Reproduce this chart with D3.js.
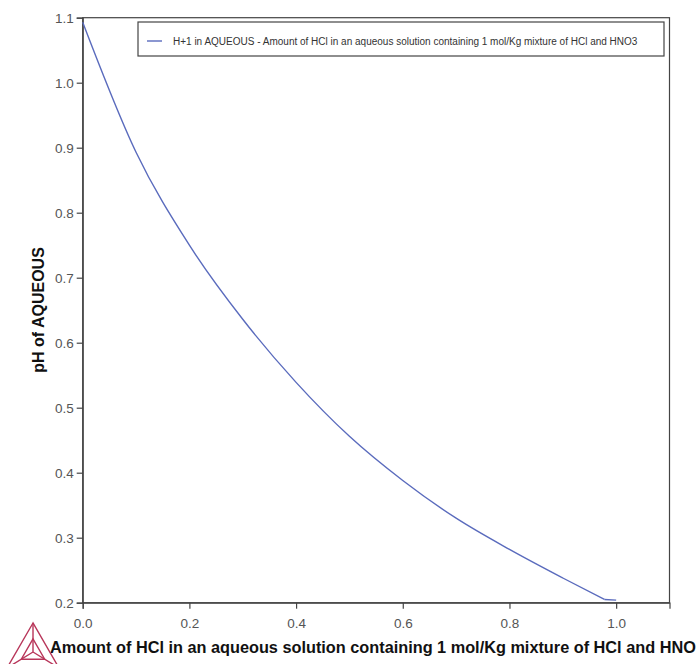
<!DOCTYPE html>
<html><head><meta charset="utf-8">
<script src="https://cdn.jsdelivr.net/npm/d3@7"></script>
<style>
body{margin:0;background:#fff;overflow:hidden}
svg{display:block;font-family:"Liberation Sans",Arial,sans-serif}
</style></head>
<body>
<svg id="c" width="696" height="664"></svg>
<script>
// Data
const amountHCl = [0, 0.1, 0.2, 0.3, 0.4, 0.5, 0.6, 0.7, 0.8, 0.9, 0.978, 1.0];
const pHAqueous = [1.093, 0.893, 0.750, 0.636, 0.539, 0.456, 0.388, 0.330, 0.282, 0.238, 0.205, 0.204];
const xTicks = [0.0, 0.2, 0.4, 0.6, 0.8, 1.0];
const yTicks = [0.2, 0.3, 0.4, 0.5, 0.6, 0.7, 0.8, 0.9, 1.0, 1.1];
const seriesLabel = "H+1 in AQUEOUS - Amount of HCl in an aqueous solution containing 1 mol/Kg mixture of HCl and HNO3";
// the reference picture shows the x title cut at the right edge after "HNO"
const xTitle = "Amount of HCl in an aqueous solution containing 1 mol/Kg mixture of HCl and HNO";
const yTitle = "pH of AQUEOUS";

const svg = d3.select("#c");
const L = 82.7, R = 669.5, T = 17.7, B = 602.7;
const x = d3.scaleLinear().domain([0, 1.1]).range([L, R]);
const y = d3.scaleLinear().domain([0.2, 1.1]).range([B, T]);

// frame
svg.append("rect").attr("x", L).attr("y", T).attr("width", R - L).attr("height", B - T)
  .attr("fill", "none").attr("stroke", "#444").attr("stroke-width", 1.2);

const xAxis = svg.append("g").attr("transform", `translate(0,${B})`)
  .call(d3.axisBottom(x).tickValues(xTicks).tickFormat(d3.format(".1f")).tickSize(6).tickPadding(10));
const yAxis = svg.append("g").attr("transform", `translate(${L},0)`)
  .call(d3.axisLeft(y).tickValues(yTicks).tickFormat(d3.format(".1f")).tickSize(6).tickPadding(3));
[xAxis, yAxis].forEach(a => {
  a.attr("font-size", 13.5).attr("font-family", "'Liberation Sans',Arial,sans-serif");
  a.select(".domain").attr("stroke", "#444").attr("stroke-width", 1.2);
  a.selectAll(".tick line").attr("stroke", "#444").attr("stroke-width", 1.2);
  a.selectAll(".tick text").attr("fill", "#555").attr("font-size", 13.5);
});
xAxis.selectAll(".tick text").attr("y", 16).attr("dy", "0.72em");

// curve: smooth part, then the short flat end segment
const pts = amountHCl.map((v, i) => [v, pHAqueous[i]]);
const line = d3.line().x(d => x(d[0])).y(d => y(d[1]));
svg.append("path").datum(pts.slice(0, pts.length - 1))
  .attr("fill", "none").attr("stroke", "#5a6bbd").attr("stroke-width", 1.4)
  .attr("d", line.curve(d3.curveMonotoneX));
svg.append("path").datum(pts.slice(pts.length - 2))
  .attr("fill", "none").attr("stroke", "#5a6bbd").attr("stroke-width", 1.4)
  .attr("d", line.curve(d3.curveLinear));

// legend
const lg = svg.append("g");
lg.append("rect").attr("x", 138).attr("y", 22).attr("width", 526).attr("height", 34)
  .attr("fill", "#fff").attr("stroke", "#444").attr("stroke-width", 1.2);
lg.append("line").attr("x1", 147).attr("x2", 162).attr("y1", 41).attr("y2", 41)
  .attr("stroke", "#5a6bbd").attr("stroke-width", 1.4);
lg.append("text").attr("x", 173).attr("y", 44.5).attr("font-size", 10).attr("fill", "#333")
  .text(seriesLabel);

// axis titles
svg.append("text").attr("transform", "translate(44,310) rotate(-90)")
  .attr("text-anchor", "middle").attr("font-size", 16).attr("font-weight", "bold").attr("fill", "#111")
  .text(yTitle);
svg.append("text").attr("x", 50).attr("y", 653)
  .attr("font-size", 16.3).attr("font-weight", "bold").attr("fill", "#111")
  .text(xTitle);

// logo
const logo = svg.append("g").attr("fill", "none").attr("stroke", "#b8365a").attr("stroke-width", 1.4);
const A = [33, 623], Bp = [7, 668], Cp = [59, 668], O = [33, 652];
logo.append("path").attr("d", `M${A}L${Bp}L${Cp}Z`);
logo.append("path").attr("d", `M${A}L${O}M${Bp}L${O}M${Cp}L${O}`);
const mid = (p, q, t) => [p[0] + (q[0] - p[0]) * t, p[1] + (q[1] - p[1]) * t];
const a1 = mid(O, A, 0.45), b1 = mid(O, Bp, 0.45), c1 = mid(O, Cp, 0.45);
logo.append("path").attr("d", `M${a1}L${b1}L${c1}Z`);
</script>
</body></html>
